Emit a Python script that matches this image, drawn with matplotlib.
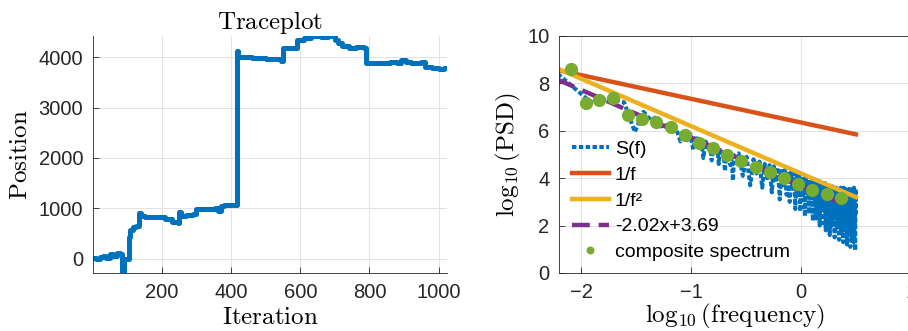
import numpy as np
import matplotlib.pyplot as plt

plt.rcParams['font.family'] = ['Liberation Sans', 'DejaVu Sans']
plt.rcParams['mathtext.fontset'] = 'cm'

# Traceplot: breakpoints of the chain (iteration, position)
trace_iter = [1, 10, 20, 30, 40, 50, 60, 70, 80, 86, 90, 104, 108, 116, 124,
              135, 140, 150, 170, 190, 210, 230, 246, 250, 256, 270, 290, 300,
              330, 355, 362, 370, 380, 400, 418, 420, 425, 460, 500, 520, 545,
              550, 580, 590, 610, 630, 660, 680, 700, 710, 720, 740, 760, 784,
              790, 830, 860, 880, 890, 905, 920, 950, 960, 980, 1000, 1015, 1024]
trace_pos = [10, 0, 30, 60, 20, 90, 50, 110, 100, -280, 0, 430, 560, 620, 650,
             900, 840, 820, 830, 820, 780, 730, 700, 930, 850, 860, 880, 980,
             990, 1000, 940, 1050, 1060, 1070, 4120, 4010, 4000, 3990, 3960, 3970, 3920,
             4180, 4180, 4350, 4380, 4420, 4400, 4420, 4350, 4280, 4220, 4180, 4200, 4180,
             3890, 3890, 3900, 3880, 3940, 3910, 3880, 3910, 3800, 3790, 3770, 3790, 3780]

# PSD: frequency bin index and log10 PSD
k_index = list(range(1, 41)) + list(range(44, 513, 4))
psd_log = [8.40, 7.20, 7.35, 7.20, 5.95, 6.80, 6.45, 6.60, 6.10, 6.30,
           5.95, 6.05, 5.55, 5.95, 5.60, 5.85, 5.20, 5.80, 5.45, 5.65,
           4.85, 5.55, 5.30, 5.50, 4.75, 5.40, 5.05, 5.35, 4.60, 5.25,
           4.95, 5.20, 4.30, 5.10, 4.80, 5.05, 4.55, 5.00, 3.90, 4.95,
           5.05, 4.10, 4.90, 3.70, 4.80, 4.20, 4.70, 3.60, 4.60, 4.00,
           4.55, 3.40, 4.50, 3.85, 4.45, 3.10, 4.40, 3.70, 4.35, 3.30,
           4.30, 3.00, 4.25, 3.55, 4.20, 2.70, 4.15, 3.40, 4.10, 2.60,
           4.05, 3.20, 4.10, 2.40, 4.00, 3.30, 3.95, 2.50, 3.90, 2.90,
           3.95, 2.20, 3.90, 3.10, 3.85, 2.30, 3.90, 2.80, 3.80, 2.00,
           3.85, 2.90, 3.80, 2.10, 3.75, 2.60, 3.80, 1.80, 3.70, 2.70,
           3.75, 2.20, 3.70, 1.60, 3.65, 2.80, 3.70, 2.00, 3.65, 2.50,
           3.60, 1.50, 3.65, 2.40, 3.60, 1.90, 3.55, 2.60, 3.60, 1.40,
           3.55, 2.30, 3.60, 1.70, 3.50, 2.50, 3.55, 1.30, 3.60, 2.10,
           3.50, 1.80, 3.55, 2.60, 3.50, 1.20, 3.60, 2.20, 3.45, 1.60,
           3.55, 2.40, 3.50, 1.10, 3.60, 2.00, 3.45, 1.50, 3.55, 2.30,
           3.50, 1.30, 3.60, 2.10, 3.45, 0.95, 3.55, 2.50]
log_df = -2.21  # log10 of the first frequency bin

comp_logf = [-2.094, -1.957, -1.836, -1.706, -1.573, -1.443, -1.315, -1.185,
             -1.057, -0.927, -0.797, -0.670, -0.543, -0.412, -0.282, -0.155,
             -0.025, 0.103, 0.234, 0.361]
comp_logpsd = [8.59, 7.19, 7.30, 7.37, 6.67, 6.49, 6.39, 6.17, 5.82, 5.50,
               5.26, 4.98, 4.73, 4.49, 4.25, 4.02, 3.76, 3.50, 3.32, 3.15]

fit_slope, fit_icpt = -2.02, 3.69
c_1f, c_1f2 = 6.35, 4.2

blue = '#0072BD'
orange = '#D95319'
yellow = '#EDB120'
purple = '#7E2F8E'
green = '#77AC30'
axcol = '#262626'


def style(ax):
    ax.tick_params(direction='in', length=4, width=0.6, colors=axcol,
                   labelsize=14.5, pad=7)
    for s in ax.spines.values():
        s.set_color(axcol)
        s.set_linewidth(0.6)
    ax.grid(True, color='#e2e2e2', linewidth=0.7)
    ax.set_axisbelow(True)


fig = plt.figure(figsize=(9.08, 3.31), dpi=100)

# Left: traceplot
ax1 = fig.add_axes([93 / 908, 58 / 331, 354 / 908, 237 / 331])
ax1.plot(trace_iter, trace_pos, drawstyle='steps-post', color=blue,
         linewidth=3.6, solid_joinstyle='round', solid_capstyle='round')
ax1.set_xlim(1, 1024)
ax1.set_ylim(min(trace_pos) - 5, max(trace_pos))
ax1.set_xticks([200, 400, 600, 800, 1000])
ax1.set_yticks([0, 1000, 2000, 3000, 4000])
style(ax1)
ax1.spines['top'].set_visible(False)
ax1.spines['right'].set_visible(False)
ax1.set_title(r'$\mathrm{Traceplot}$', fontsize=18, pad=5, color='black')
ax1.set_xlabel(r'$\mathrm{Iteration}$', fontsize=18, labelpad=2)
ax1.set_ylabel(r'$\mathrm{Position}$', fontsize=18, labelpad=5)

# Right: power spectrum
ax2 = fig.add_axes([559 / 908, 58 / 331, 352 / 908, 237 / 331])
logf = np.log10(np.array(k_index)) + log_df
xr = np.array([logf[0], logf[-1]])
ax2.plot(logf, psd_log, color=blue, linewidth=2.9, dashes=(1.1, 0.6),
         dash_capstyle='butt', label='S(f)')
ax2.plot(xr, -xr + c_1f, color=orange, linewidth=3.2, label='1/f')
ax2.plot(xr, -2 * xr + c_1f2, color=yellow, linewidth=3.2, label='1/f²')
xf = np.array([logf[0], comp_logf[-1]])
ax2.plot(xf, fit_slope * xf + fit_icpt, color=purple, linewidth=3.2,
         dashes=(4, 2), label='-2.02x+3.69')
ax2.plot(comp_logf, comp_logpsd, 'o', color=green, markersize=9.5,
         markeredgewidth=0, label='composite spectrum')
ax2.set_xlim(-2.2, 1.0)
ax2.set_ylim(0, 10)
ax2.set_xticks([-2, -1, 0, 1])
ax2.set_yticks([0, 2, 4, 6, 8, 10])
style(ax2)
ax2.set_xlabel(r'$\log_{10}(\mathrm{frequency})$', fontsize=18, labelpad=0)
ax2.set_ylabel(r'$\log_{10}(\mathrm{PSD})$', fontsize=18, labelpad=3)
leg = ax2.legend(loc='lower left', bbox_to_anchor=(0.037, 0.05), frameon=False,
                 fontsize=14, handlelength=1.9, handletextpad=0.3,
                 labelspacing=0.42, borderaxespad=0, borderpad=0,
                 markerscale=0.6)
for t in leg.get_texts():
    t.set_color('black')

fig.savefig('out.png', dpi=100)
